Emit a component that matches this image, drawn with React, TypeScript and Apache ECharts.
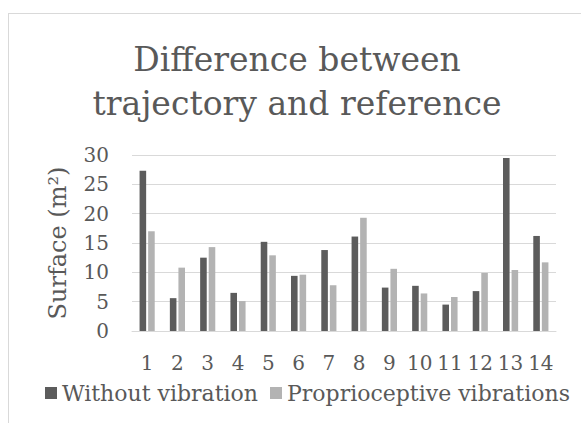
import React, { useEffect, useRef } from "react";
import * as echarts from "echarts";

const categories = ["1", "2", "3", "4", "5", "6", "7", "8", "9", "10", "11", "12", "13", "14"];
const withoutVibration = [27.3, 5.6, 12.5, 6.5, 15.2, 9.4, 13.8, 16.1, 7.4, 7.7, 4.5, 6.8, 29.5, 16.2];
const proprioceptiveVibrations = [17.0, 10.8, 14.3, 5.1, 12.9, 9.6, 7.8, 19.3, 10.6, 6.4, 5.8, 9.9, 10.4, 11.7];
const seriesNames = ["Without vibration", "Proprioceptive vibrations"];
const titleText = "Difference between\ntrajectory and reference";
const yAxisName = "Surface (m²)";

const FONT = "'DejaVu Serif', serif";
const TEXT = "#595959";

export default function App() {
  const ref = useRef<HTMLDivElement>(null);
  useEffect(() => {
    if (!ref.current) return;
    const chart = echarts.init(ref.current, undefined, { renderer: "svg" });
    chart.setOption({
      animation: false,
      backgroundColor: "transparent",
      title: {
        text: titleText,
        left: "center",
        top: 32,
        textStyle: {
          fontFamily: FONT,
          fontSize: 33,
          fontWeight: "normal",
          color: TEXT,
          lineHeight: 44,
        },
      },
      legend: {
        left: 40,
        top: 377,
        itemWidth: 12,
        itemHeight: 12,
        itemGap: 12,
        icon: "rect",
        textStyle: { fontFamily: FONT, fontSize: 22, color: TEXT },
        data: seriesNames,
      },
      grid: { left: 132, right: 38, top: 155, bottom: 119 },
      xAxis: {
        type: "category",
        data: categories,
        axisLine: { show: true, lineStyle: { color: "#d9d9d9", width: 1 } },
        axisTick: { show: false },
        axisLabel: { interval: 0, margin: 22, fontFamily: FONT, fontSize: 20, color: TEXT },
      },
      yAxis: {
        type: "value",
        min: 0,
        max: 30,
        interval: 5,
        name: yAxisName,
        nameLocation: "middle",
        nameGap: 62,
        nameTextStyle: { fontFamily: FONT, fontSize: 24, color: TEXT },
        axisLine: { show: false },
        axisTick: { show: false },
        splitLine: { lineStyle: { color: "#d9d9d9", width: 1 } },
        axisLabel: { margin: 23, fontFamily: FONT, fontSize: 20, color: TEXT },
      },
      series: [
        {
          name: seriesNames[0],
          type: "bar",
          data: withoutVibration,
          itemStyle: { color: "#5c5c5c" },
          barGap: "30%",
          barCategoryGap: "50%",
        },
        {
          name: seriesNames[1],
          type: "bar",
          data: proprioceptiveVibrations,
          itemStyle: { color: "#b3b3b3" },
          barGap: "30%",
          barCategoryGap: "50%",
        },
      ],
    });
    return () => chart.dispose();
  }, []);

  return (
    <div style={{ position: "fixed", left: 0, top: 0, width: 581, height: 423, overflow: "hidden", background: "#fff" }}>
      <div
        style={{
          position: "absolute",
          left: 8,
          top: 13,
          width: 700,
          height: 600,
          border: "1px solid #d9d9d9",
          boxSizing: "border-box",
        }}
      />
      <div ref={ref} style={{ position: "absolute", left: 0, top: 0, width: 594, height: 450 }} />
    </div>
  );
}
